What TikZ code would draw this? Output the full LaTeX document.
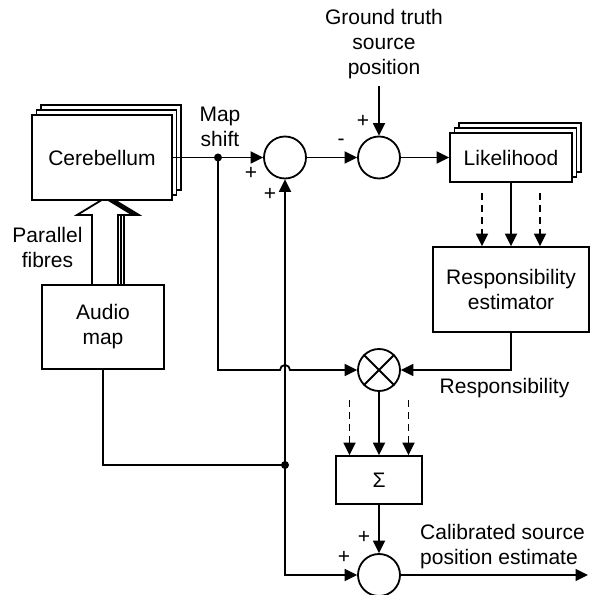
\documentclass[tikz,border=0pt]{standalone}
\usepackage{fontspec}
\setmainfont{Liberation Sans}
\usetikzlibrary{arrows.meta, positioning, calc, shadows}
\tikzset{
  block/.style={
    rectangle, draw, fill=white, line width=1.8pt,
    align=center, inner sep=0pt},
  stackblock/.style={
    block, double copy shadow={shadow xshift=4.5pt, shadow yshift=5pt,
    draw=black, fill=white, line width=1.8pt}},
  sumnode/.style={
    circle, draw, fill=white, line width=1.8pt,
    minimum size=42pt, inner sep=0pt},
  lbl/.style={align=center, inner sep=0pt},
  sgn/.style={inner sep=0pt},
  dot/.style={circle, fill, inner sep=0pt, minimum size=8pt},
  wire/.style={line width=1.8pt},
  arr/.style={-{Triangle[length=12.5pt,width=12pt]}, line width=1.8pt},
  arrboth/.style={{Triangle[length=12.5pt,width=12pt]}-{Triangle[length=12.5pt,width=12pt]}, line width=1.8pt},
  arrdash/.style={arr, dash pattern=on 7pt off 5pt},
}
\begin{document}
\begin{tikzpicture}[x=1pt, y=1pt, font=\fontsize{21}{25}\selectfont]
  \useasboundingbox (0,0) rectangle (592,595);
  % parallel fibres
  \foreach \dx in {6,3,0}
    \draw[wire, fill=white, shift={(\dx,0)}]
      (92,311) -- (92,380) -- (77,380) -- (105,397) -- (133,380) -- (118,380) -- (118,311);
  % blocks
  \node[stackblock, minimum width=140pt, minimum height=85pt] (cereb) at (102,437.5) {Cerebellum};
  \node[block, minimum width=122pt, minimum height=84pt] (audio) at (103,268) {Audio\\map};
  \node[sumnode] (sum1) at (285,437.5) {};
  \node[sumnode] (sum2) at (379,437.5) {};
  \node[stackblock, minimum width=122pt, minimum height=49pt] (lik) at (511,437.5) {Likelihood};
  \node[block, minimum width=156pt, minimum height=85pt] (resp) at (511,305.5) {Responsibility\\estimator};
  \node[sumnode] (mult) at (379,225) {};
  \node[block, minimum width=86pt, minimum height=48pt] (sigma) at (379,115) {Σ};
  \node[sumnode] (sum3) at (379,20) {};
  % labels
  \node[lbl] (gt) at (384,551) {Ground truth\\source\\position};
  \node[lbl] (ms) at (220,468) {Map\\shift};
  \node[lbl] (pf) at (47.5,347.5) {Parallel\\fibres};
  \node[lbl] (rl) at (504.5,207) {Responsibility};
  \node[lbl, align=left, anchor=west] (cal) at (420,48.5) {Calibrated source\\position estimate};
  \node[sgn] (p1) at (251,422) {+};
  \node[sgn] (p2) at (270,401) {+};
  \node[sgn] (m1) at (341,453) {-};
  \node[sgn] (p3) at (363,474) {+};
  \node[sgn] (p4) at (364,58) {+};
  \node[sgn] (p5) at (344,38) {+};
  \coordinate (split) at (218,437.5);
  \coordinate (gtin) at (379,509);
  \coordinate (tap) at (285,130);
  \coordinate (out) at (588,20);
  % connectors
  \draw[arr] (cereb.east) -- (sum1.west);
  \draw[arr] (sum1.east) -- (sum2.west);
  \draw[arr] (gtin) -- (sum2.north);
  \draw[arr] (sum2.east) -- (lik.west);
  \draw[arr] (lik.south) -- (resp.north);
  \foreach \dx in {-29,29}
    \draw[arrdash] ([xshift=\dx pt, yshift=-10pt]lik.south) -- ([xshift=\dx pt]resp.north);
  \draw[arr] (resp.south) |- (mult.east);
  \draw[arr] (split) |- ($(tap |- mult)+(-5,0)$) arc[start angle=180, end angle=0, radius=5] -- (mult.west);
  \draw[wire] (mult.north west) -- (mult.south east) (mult.north east) -- (mult.south west);
  \draw[arr] (mult.south) -- (sigma.north);
  \foreach \dx in {-29.5,29.5}
    \draw[arrdash] ([xshift=\dx pt, yshift=-8pt]mult.south) -- ([xshift=\dx pt]sigma.north);
  \draw[arr] (sigma.south) -- (sum3.north);
  \draw[wire] (audio.south) |- (tap);
  \draw[arrboth] (sum3.west) -| (sum1.south);
  \draw[arr] (sum3.east) -- (out);
  \node[dot] (d1) at (split) {};
  \node[dot] (d2) at (tap) {};
\end{tikzpicture}
\end{document}
